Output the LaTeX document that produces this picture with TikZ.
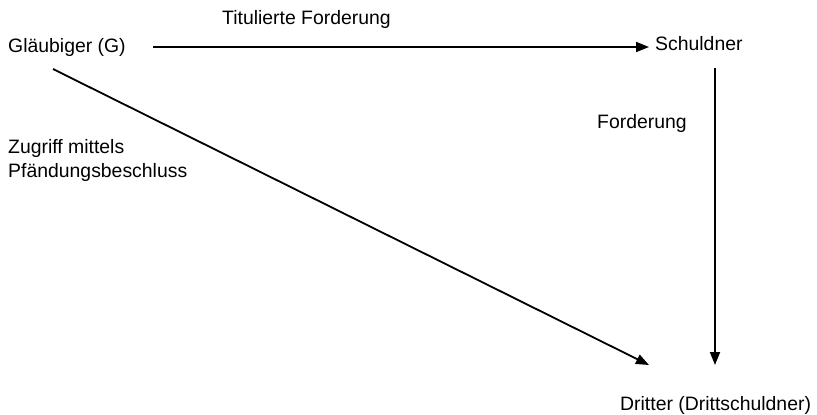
\documentclass[tikz,border=0pt]{standalone}
\usepackage{fontspec}
\setmainfont{Liberation Sans}
\usetikzlibrary{arrows.meta}
\begin{document}
\begin{tikzpicture}[x=1pt,y=-1pt,
  lbl/.style={anchor=base west,inner sep=0pt,font=\fontsize{19.4}{23}\selectfont},
  conn/.style={line width=1.8pt,-{Triangle[length=13pt,width=10pt]}}]
\useasboundingbox (0,0) rectangle (817,415);
\node[lbl] (G) at (8,52) {Gläubiger (G)};
\node[lbl] (T) at (222,24) {Titulierte Forderung};
\node[lbl] (S) at (655,50) {Schuldner};
\node[lbl] (F) at (597,128) {Forderung};
\node[lbl] (Z1) at (8,153) {Zugriff mittels};
\node[lbl] (Z2) at (8,177) {Pfändungsbeschluss};
\node[lbl] (D) at (620,410) {Dritter (Drittschuldner)};
\coordinate (gTop) at (153,47);
\coordinate (sIn) at (649,47);
\coordinate (sOut) at (715,68);
\coordinate (dIn) at (715,365);
\coordinate (gDiag) at (53,69);
\coordinate (dDiag) at (649,365);
\draw[conn] (gTop) -- (sIn);
\draw[conn] (sOut) -- (dIn);
\draw[conn] (gDiag) -- (dDiag);
\end{tikzpicture}
\end{document}
